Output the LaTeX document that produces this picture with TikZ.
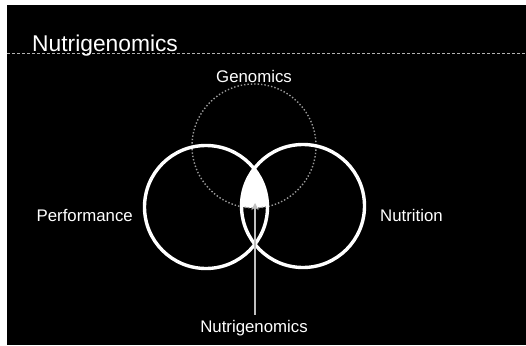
\documentclass[tikz,border=0pt]{standalone}
\usepackage{fontspec}
\setmainfont{Liberation Sans}
\usetikzlibrary{arrows.meta}
\begin{document}
\begin{tikzpicture}[x=1pt,y=-1pt,
  lbl/.style={text=white,font=\fontsize{16.8}{20}\selectfont,inner sep=0pt},
  ring/.style={draw=white,line width=3.4pt},
  genring/.style={draw=gray!80,line width=1.4pt,dotted},
  pointer/.style={draw=gray!50!white,line width=2.2pt,-{Stealth[length=7pt,width=7pt]}}]
\useasboundingbox (0,0) rectangle (526,345);
\fill[white] (0,0) rectangle (526,345);
\fill[black] (7,5) rectangle (526,345);
\draw[gray!60,line width=0.6pt,densely dashed] (7,53) -- (526,53);
\node[lbl,font=\fontsize{22.8}{26}\selectfont,anchor=base west] (title) at (32,51) {Nutrigenomics};
% intersection fill
\begin{scope}
  \clip (206,207) circle (61.5);
  \clip (303,206) circle (61.5);
  \fill[white] (254,146) circle (62);
\end{scope}
\draw[genring] (254,146) circle (62);
\draw[ring] (206,207) circle (61.5);
\draw[ring] (303,206) circle (61.5);
\node[lbl] (gen) at (254,76) {Genomics};
\node[lbl,anchor=east] (perf) at (133,215) {Performance};
\node[lbl,anchor=west] (nutr) at (380,215) {Nutrition};
\node[lbl] (ng) at (254,328) {Nutrigenomics};
\coordinate (tip) at (255,203);
\draw[pointer] ([yshift=5pt]ng.north -| tip) -- (tip);
\end{tikzpicture}
\end{document}
